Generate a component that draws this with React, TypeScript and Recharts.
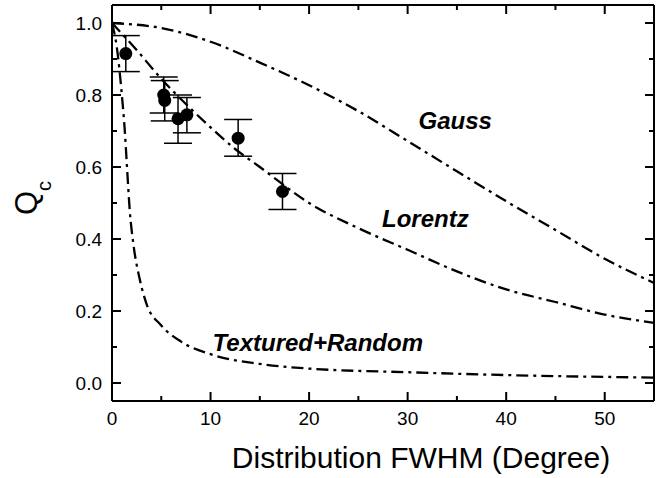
import React from "react";
import {
  ComposedChart,
  Line,
  Scatter,
  ErrorBar,
  XAxis,
  YAxis,
  ReferenceDot,
} from "recharts";

// model curves, Q_c vs distribution FWHM (degree)
const gaussX = [0, 5, 10, 15, 20, 25, 30, 35, 40, 45, 50, 55];
const gaussQ = [1.0, 0.986, 0.948, 0.89, 0.827, 0.755, 0.672, 0.588, 0.505, 0.425, 0.345, 0.278];

const lorentzX = [0, 2.5, 5, 7.5, 10, 12.5, 15, 20, 25, 30, 35, 40, 45, 50, 55];
const lorentzQ = [1.0, 0.925, 0.845, 0.775, 0.71, 0.65, 0.6, 0.5, 0.43, 0.37, 0.31, 0.26, 0.225, 0.19, 0.167];

const texturedX = [0, 0.5, 1, 1.3, 1.5, 1.8, 2.2, 2.8, 3.5, 5, 7, 10, 15, 20, 30, 40, 55];
const texturedQ = [1.0, 0.93, 0.8, 0.7, 0.61, 0.48, 0.38, 0.29, 0.22, 0.16, 0.115, 0.08, 0.053, 0.04, 0.03, 0.022, 0.015];

// measured points with error bars
const measX = [1.4, 5.25, 5.35, 6.7, 7.6, 12.8, 17.3];
const measQ = [0.915, 0.8, 0.785, 0.734, 0.745, 0.68, 0.532];
const measErrLow = [0.05, 0.05, 0.057, 0.068, 0.05, 0.05, 0.05];
const measErrHigh = [0.05, 0.05, 0.055, 0.066, 0.048, 0.052, 0.05];

// ticks
const xMajor = [0, 10, 20, 30, 40, 50];
const xMinor = [5, 15, 25, 35, 45];
const yMajor = [0, 0.2, 0.4, 0.6, 0.8, 1.0];
const yMinor = [0.1, 0.3, 0.5, 0.7, 0.9];

const xTicks = [...xMajor, ...xMinor].sort((a, b) => a - b);
const yTicks = [...yMajor, ...yMinor].sort((a, b) => a - b);

const toPts = (xs: number[], ys: number[]) => xs.map((x, i) => ({ x, y: ys[i] }));
const gauss = toPts(gaussX, gaussQ);
const lorentz = toPts(lorentzX, lorentzQ);
const textured = toPts(texturedX, texturedQ);
const measured = measX.map((x, i) => ({
  x,
  y: measQ[i],
  err: [measErrLow[i], measErrHigh[i]],
}));

const FONT = "'Liberation Sans', Arial, Helvetica, sans-serif";
const DASH = "12 5 3 5";

const isXMajor = (v: number) => xMajor.includes(v);
const isYMajor = (v: number) => yMajor.some((m) => Math.abs(m - v) < 1e-6);

const BottomTick = (p: any) => {
  const len = isXMajor(p.payload.value) ? 9 : 5;
  return (
    <g>
      <line x1={p.x} y1={p.y} x2={p.x} y2={p.y - len} stroke="#000" strokeWidth={2} />
      {isXMajor(p.payload.value) && (
        <text x={p.x} y={p.y + 24} textAnchor="middle" fontSize={19} fontFamily={FONT} fill="#000">
          {p.payload.value}
        </text>
      )}
    </g>
  );
};

const TopTick = (p: any) => {
  const len = isXMajor(p.payload.value) ? 9 : 5;
  return <line x1={p.x} y1={p.y} x2={p.x} y2={p.y + len} stroke="#000" strokeWidth={2} />;
};

const LeftTick = (p: any) => {
  const major = isYMajor(p.payload.value);
  const len = major ? 9 : 5;
  return (
    <g>
      <line x1={p.x} y1={p.y} x2={p.x + len} y2={p.y} stroke="#000" strokeWidth={2} />
      {major && (
        <text x={p.x - 10} y={p.y + 7} textAnchor="end" fontSize={19} fontFamily={FONT} fill="#000">
          {Number(p.payload.value).toFixed(1)}
        </text>
      )}
    </g>
  );
};

const RightTick = (p: any) => {
  const len = isYMajor(p.payload.value) ? 9 : 5;
  return <line x1={p.x} y1={p.y} x2={p.x - len} y2={p.y} stroke="#000" strokeWidth={2} />;
};

const Dot = (p: any) => <circle cx={p.cx} cy={p.cy} r={6.5} fill="#000" />;

const note = (text: string) => (props: any) => (
  <text
    x={props.viewBox.x}
    y={props.viewBox.y}
    fontSize={24}
    fontWeight="bold"
    fontStyle="italic"
    fontFamily={FONT}
    fill="#000"
  >
    {text}
  </text>
);

const axisLine = { stroke: "#000", strokeWidth: 2 };

export default function App() {
  return (
    <div style={{ position: "absolute", left: 0, top: 0, background: "#fff" }}>
      <ComposedChart
        width={665}
        height={478}
        margin={{ top: 0, right: 6, bottom: 37, left: 52 }}
      >
        <XAxis
          xAxisId="b"
          dataKey="x"
          type="number"
          domain={[0, 55]}
          ticks={xTicks}
          interval={0}
          height={40}
          tickSize={0}
          tickMargin={0}
          tickLine={false}
          axisLine={axisLine}
          tick={BottomTick}
          allowDataOverflow
          label={{
            content: () => (
              <text x={421} y={468} textAnchor="middle" fontSize={30} fontFamily={FONT} fill="#000">
                Distribution FWHM (Degree)
              </text>
            ),
          }}
        />
        <XAxis
          xAxisId="t"
          orientation="top"
          dataKey="x"
          type="number"
          domain={[0, 55]}
          ticks={xTicks}
          interval={0}
          height={5}
          tickSize={0}
          tickMargin={0}
          tickLine={false}
          axisLine={axisLine}
          tick={TopTick}
          allowDataOverflow
        />
        <YAxis
          yAxisId="l"
          dataKey="y"
          type="number"
          domain={[-0.05, 1.05]}
          ticks={yTicks}
          interval={0}
          width={60}
          tickSize={0}
          tickMargin={0}
          tickLine={false}
          axisLine={axisLine}
          tick={LeftTick}
          allowDataOverflow
          label={{
            content: () => (
              <text transform="translate(37,215) rotate(-90)" fontSize={31} fontFamily={FONT} fill="#000">
                Q
                <tspan fontSize={20} dy={14}>
                  c
                </tspan>
              </text>
            ),
          }}
        />
        <YAxis
          yAxisId="r"
          orientation="right"
          type="number"
          domain={[-0.05, 1.05]}
          ticks={yTicks}
          interval={0}
          width={5}
          tickSize={0}
          tickMargin={0}
          tickLine={false}
          axisLine={axisLine}
          tick={RightTick}
          allowDataOverflow
        />

        <Line
          xAxisId="b"
          yAxisId="l"
          data={gauss}
          dataKey="y"
          type="monotone"
          stroke="#000"
          strokeWidth={2.3}
          strokeDasharray={DASH}
          dot={false}
          isAnimationActive={false}
        />
        <Line
          xAxisId="b"
          yAxisId="l"
          data={lorentz}
          dataKey="y"
          type="monotone"
          stroke="#000"
          strokeWidth={2.3}
          strokeDasharray={DASH}
          dot={false}
          isAnimationActive={false}
        />
        <Line
          xAxisId="b"
          yAxisId="l"
          data={textured}
          dataKey="y"
          type="monotone"
          stroke="#000"
          strokeWidth={2.3}
          strokeDasharray={DASH}
          dot={false}
          isAnimationActive={false}
        />
        <Scatter
          xAxisId="b"
          yAxisId="l"
          data={measured}
          shape={Dot}
          isAnimationActive={false}
        >
          <ErrorBar dataKey="err" direction="y" width={14} stroke="#000" strokeWidth={1.5} isAnimationActive={false} />
        </Scatter>

        <ReferenceDot xAxisId="b" yAxisId="l" x={31.1} y={0.705} r={0} label={{ content: note("Gauss") }} />
        <ReferenceDot xAxisId="b" yAxisId="l" x={27.4} y={0.432} r={0} label={{ content: note("Lorentz") }} />
        <ReferenceDot xAxisId="b" yAxisId="l" x={10.2} y={0.089} r={0} label={{ content: note("Textured+Random") }} />
      </ComposedChart>
    </div>
  );
}
